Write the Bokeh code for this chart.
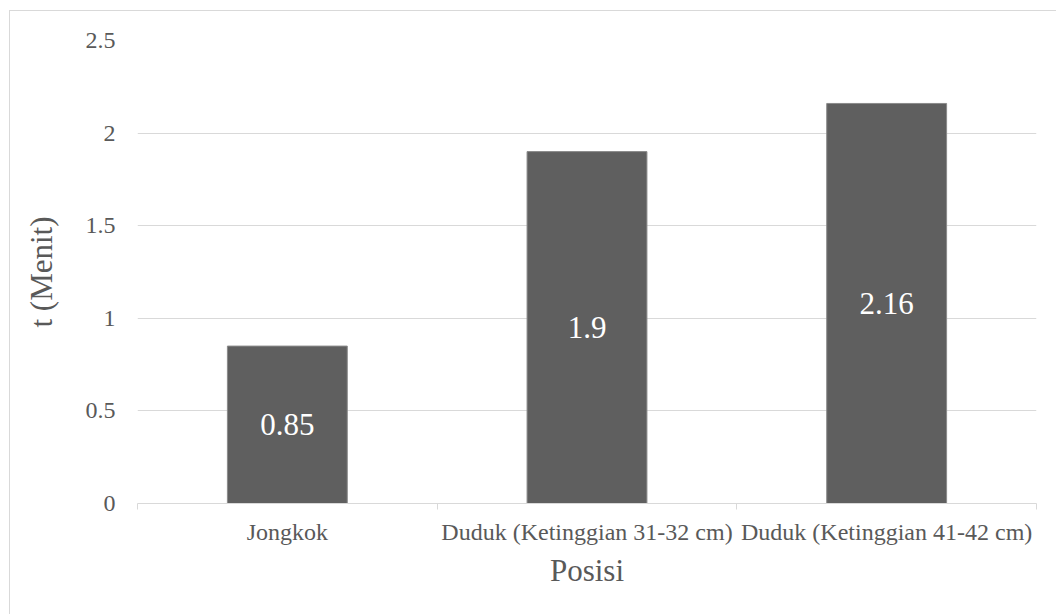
from bokeh.plotting import figure
from bokeh.models import FixedTicker, ColumnDataSource, Range1d
from bokeh.core.properties import value
from bokeh.embed import file_html
from bokeh.resources import INLINE

categories = ["Jongkok", "Duduk (Ketinggian 31-32 cm)", "Duduk (Ketinggian 41-42 cm)"]
values = [0.85, 1.9, 2.16]
value_labels = ["0.85", "1.9", "2.16"]
y_ticks = [0, 0.5, 1, 1.5, 2, 2.5]
y_tick_labels = ["0", "0.5", "1", "1.5", "2", "2.5"]

FONT = "Liberation Serif"
TXT = "#595959"
GRID = "#d9d9d9"

xs = [i + 0.5 for i in range(len(categories))]
src = ColumnDataSource(dict(x=xs, top=values, mid=[v / 2 for v in values], lab=value_labels))

p = figure(width=1047, height=604, output_backend="svg", toolbar_location=None,
           x_range=Range1d(0, len(categories)), y_range=Range1d(0, 2.5),
           min_border_left=127, min_border_right=21, min_border_top=29, min_border_bottom=112)
p.margin = (10, 0, 0, 9)
p.styles = {"border-left": "1.5px solid #d9d9d9", "border-top": "1.5px solid #d9d9d9"}
p.outline_line_color = None
p.background_fill_color = "white"
p.border_fill_color = "white"

p.vbar(x="x", top="top", width=0.4, source=src, fill_color="#5f5f5f", line_color="#8a8a8a", line_width=1)
p.text(x="x", y="mid", text="lab", source=src, text_align="center", text_baseline="middle",
       text_color="white", text_font_size="31px", text_font=value(FONT))

# x axis
xa = p.xaxis[0]
xa.ticker = FixedTicker(ticks=xs, minor_ticks=list(range(len(categories) + 1)))
xa.major_label_overrides = {x: c for x, c in zip(xs, categories)}
xa.major_tick_line_color = None
xa.minor_tick_line_color = GRID
xa.minor_tick_in = 0
xa.minor_tick_out = 6
xa.axis_line_color = GRID
xa.major_label_text_font = FONT
xa.major_label_text_font_size = "24px"
xa.major_label_text_color = TXT
xa.major_label_standoff = 9
xa.axis_label = "Posisi"
xa.axis_label_text_font = FONT
xa.axis_label_text_font_size = "31px"
xa.axis_label_text_font_style = "normal"
xa.axis_label_text_color = TXT
xa.axis_label_standoff = 5

# y axis
ya = p.yaxis[0]
ya.ticker = FixedTicker(ticks=y_ticks)
ya.major_label_overrides = {t: l for t, l in zip(y_ticks, y_tick_labels)}
ya.axis_line_color = None
ya.major_tick_line_color = None
ya.minor_tick_line_color = None
ya.major_label_text_font = FONT
ya.major_label_text_font_size = "24px"
ya.major_label_text_color = TXT
ya.major_label_standoff = 16
ya.axis_label = "t (Menit)"
ya.axis_label_text_font = FONT
ya.axis_label_text_font_size = "31px"
ya.axis_label_text_font_style = "normal"
ya.axis_label_text_color = TXT
ya.axis_label_standoff = 24

p.xgrid.grid_line_color = None
p.ygrid.grid_line_color = GRID
p.ygrid.ticker = FixedTicker(ticks=y_ticks)

open("out.html", "w").write(file_html(p, INLINE))
